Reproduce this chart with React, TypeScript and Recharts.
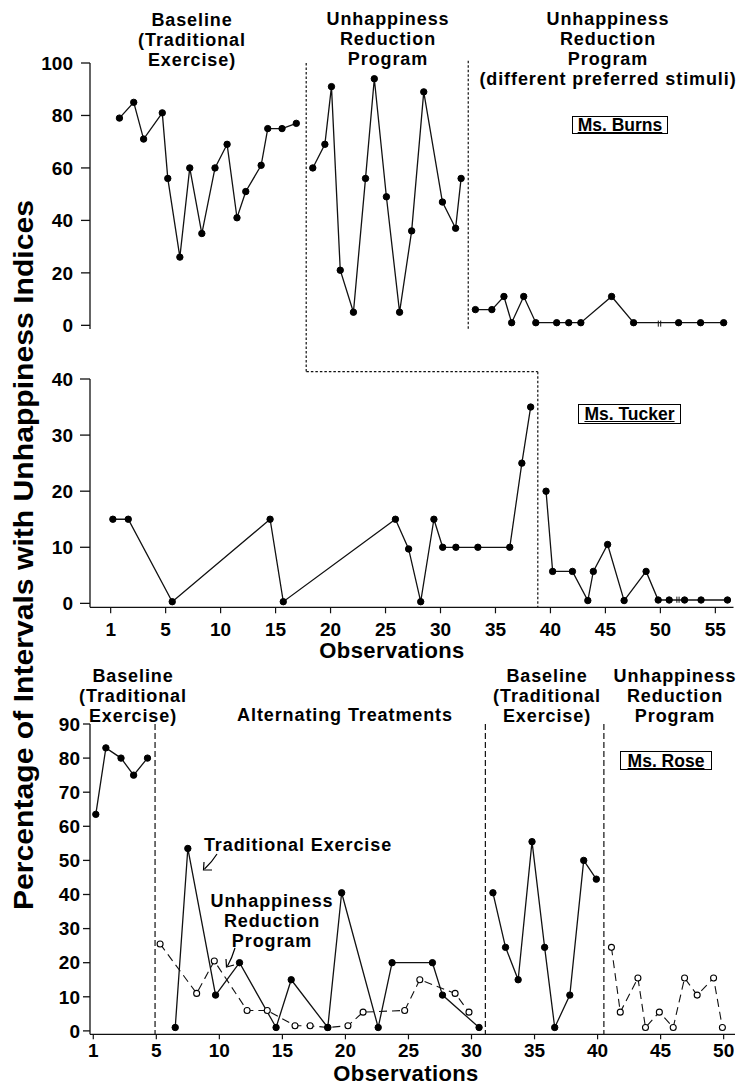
import React from 'react';
import { LineChart, Line, XAxis, YAxis, ReferenceLine } from 'recharts';

const FONT = '"Liberation Sans", Arial, Helvetica, sans-serif';

// ---------- Ms. Burns (top panel) ----------
const burnsBaselineX = [0.8, 2.1, 3.0, 4.7, 5.2, 6.3, 7.2, 8.3, 9.5, 10.6, 11.5, 12.3, 13.7, 14.3, 15.6, 16.9];
const burnsBaselineY = [79, 85, 71, 81, 56, 26, 60, 35, 60, 69, 41, 51, 61, 75, 75, 77];
const burnsProgramX = [18.4, 19.5, 20.1, 20.9, 22.1, 23.2, 24.0, 25.1, 26.3, 27.4, 28.5, 30.2, 31.4, 31.9];
const burnsProgramY = [60, 69, 91, 21, 5, 56, 94, 49, 5, 36, 89, 47, 37, 56];
const burnsStimuliX = [33.2, 34.7, 35.8, 36.5, 37.6, 38.7, 40.6, 41.7, 42.8, 45.6, 47.6, 51.7, 53.7, 55.8];
const burnsStimuliY = [6, 6, 11, 1, 11, 1, 1, 1, 1, 11, 1, 1, 1, 1];

// ---------- Ms. Tucker (middle panel) ----------
const tuckerBaselineX = [0.2, 1.6, 5.6, 14.5, 15.7, 25.9, 27.1, 28.2, 29.4, 30.2, 31.4, 33.4, 36.3, 37.4, 38.2];
const tuckerBaselineY = [15, 15, 0.3, 15, 0.3, 15, 9.7, 0.3, 15, 10, 10, 10, 10, 25, 35];
const tuckerProgramX = [39.6, 40.2, 42.0, 43.4, 43.9, 45.2, 46.7, 48.7, 49.8, 50.8, 52.2, 53.7, 56.1];
const tuckerProgramY = [20, 5.7, 5.7, 0.5, 5.7, 10.5, 0.5, 5.7, 0.6, 0.6, 0.6, 0.6, 0.6];

// ---------- Ms. Rose (bottom panel) ----------
const roseBaseline1X = [0.2, 1.0, 2.2, 3.2, 4.3];
const roseBaseline1Y = [63.5, 83, 80, 75, 80];
const roseTraditionalX = [6.5, 7.5, 9.7, 11.6, 14.5, 15.7, 18.6, 19.7, 22.6, 23.7, 26.9, 27.7, 30.6];
const roseTraditionalY = [1, 53.5, 10.5, 20, 1, 15, 1, 40.5, 1, 20, 20, 10.5, 1];
const roseAltProgramX = [5.3, 8.2, 9.6, 12.2, 13.8, 16.0, 17.2, 18.6, 20.2, 21.4, 24.7, 25.9, 28.7, 29.8];
const roseAltProgramY = [25.5, 11, 20.5, 6, 6, 1.5, 1.5, 1, 1.5, 5.5, 6, 15, 11, 5.5];
const roseBaseline2X = [31.7, 32.7, 33.7, 34.8, 35.8, 36.6, 37.8, 38.9, 39.9];
const roseBaseline2Y = [40.5, 24.5, 15, 55.5, 24.5, 1, 10.5, 50, 44.5];
const roseProgramX = [41.1, 41.8, 43.2, 43.8, 44.9, 46.0, 46.9, 47.9, 49.2, 49.9];
const roseProgramY = [24.5, 5.5, 15.5, 1, 5.5, 1, 15.5, 10.5, 15.5, 1];

// ---------- axes ----------
const topTicksY = [0, 20, 40, 60, 80, 100];
const midTicksY = [0, 10, 20, 30, 40];
const botTicksY = [0, 10, 20, 30, 40, 50, 60, 70, 80, 90];
const midTicksX = [0, 5, 10, 15, 20, 25, 30, 35, 40, 45, 50, 55];
const botTicksX = [0, 5, 10, 15, 20, 25, 30, 35, 40, 45, 50];
const firstTickLabel = '1';

// phase change lines (observation positions)
const burnsPhase1 = 17.8;
const burnsPhase2 = 32.55;
const tuckerPhase = 38.85;
const rosePhases = [4.9, 31.1, 40.5];

const zip = (xs: number[], ys: number[]) => xs.map((x, i) => ({ x, y: ys[i] }));
const fmtX = (v: number) => (v === 0 ? firstTickLabel : String(v));

const W = 741;
const H = 1087;
const INK = '#111';

const tickStyle = { fontSize: 19, fontWeight: 700, fill: '#000', fontFamily: FONT };
const filledDot = { r: 3.2, fill: '#000', stroke: '#000', strokeWidth: 1, strokeDasharray: 'none' };
const openDot = { r: 3, fill: '#fff', stroke: '#000', strokeWidth: 1.1, strokeDasharray: 'none' };

const solid = (data: { x: number; y: number }[], key: string) => (
  <Line
    key={key}
    data={data}
    dataKey="y"
    type="linear"
    stroke={INK}
    strokeWidth={1.3}
    dot={filledDot}
    activeDot={false}
    isAnimationActive={false}
  />
);

const dashed = (data: { x: number; y: number }[], key: string) => (
  <Line
    key={key}
    data={data}
    dataKey="y"
    type="linear"
    stroke={INK}
    strokeWidth={1.1}
    strokeDasharray="8 5"
    dot={openDot}
    activeDot={false}
    isAnimationActive={false}
  />
);

const abs: React.CSSProperties = { position: 'absolute', left: 0, top: 0 };

const Title = ({ x, top, lines, size = 18, spacing = 0.9 }: { x: number; top: number; lines: string[]; size?: number; spacing?: number }) => (
  <div
    style={{
      position: 'absolute',
      left: x,
      top,
      transform: 'translateX(-50%)',
      textAlign: 'center',
      fontFamily: FONT,
      fontWeight: 700,
      fontSize: size,
      letterSpacing: spacing,
      lineHeight: '20px',
      whiteSpace: 'nowrap',
      color: '#000',
    }}
  >
    {lines.map((l, i) => (
      <div key={i}>{l}</div>
    ))}
  </div>
);

const NameBox = ({ left, top, width, height, text }: { left: number; top: number; width: number; height: number; text: string }) => (
  <div
    style={{
      position: 'absolute',
      left,
      top,
      width,
      height,
      boxSizing: 'border-box',
      border: '1.3px solid #000',
      display: 'flex',
      alignItems: 'center',
      justifyContent: 'center',
      fontFamily: FONT,
      fontWeight: 700,
      fontSize: 17.5,
      textDecoration: 'underline',
      color: '#000',
      whiteSpace: 'nowrap',
      lineHeight: '16px',
    }}
  >
    {text}
  </div>
);

export default function App() {
  return (
    <div style={{ position: 'absolute', left: 0, top: 0, width: W, height: H, background: '#fff', overflow: 'hidden' }}>
      {/* Top panel: Ms. Burns */}
      <div style={abs}>
        <LineChart width={W} height={H} margin={{ top: 63, right: 8, left: 0, bottom: H - 329 }}>
          <XAxis
            type="number"
            dataKey="x"
            domain={[-1.88, 56.65]}
            allowDataOverflow
            height={0}
            tick={false}
            tickLine={false}
            axisLine={{ stroke: INK, strokeWidth: 1.3 }}
          />
          <YAxis
            type="number"
            domain={[-1.4, 100]}
            allowDataOverflow
            ticks={topTicksY}
            width={90}
            tick={tickStyle}
            tickSize={9}
            tickMargin={8}
            axisLine={{ stroke: INK, strokeWidth: 1.3 }}
            tickLine={{ stroke: INK, strokeWidth: 1.3 }}
          />
          <ReferenceLine
            segment={[{ x: burnsPhase1, y: 100 }, { x: burnsPhase1, y: -17.6 }]}
            ifOverflow="visible"
            stroke={INK}
            strokeWidth={1.2}
            strokeDasharray="2.5 2"
          />
          <ReferenceLine
            segment={[{ x: burnsPhase2, y: 100.9 }, { x: burnsPhase2, y: -1.4 }]}
            ifOverflow="visible"
            stroke={INK}
            strokeWidth={1.2}
            strokeDasharray="2.5 2"
          />
          <ReferenceLine segment={[{ x: 49.85, y: 1.8 }, { x: 49.85, y: -0.5 }]} ifOverflow="visible" stroke={INK} strokeWidth={1} />
          <ReferenceLine segment={[{ x: 50.07, y: 1.8 }, { x: 50.07, y: -0.5 }]} ifOverflow="visible" stroke={INK} strokeWidth={1} />
          {solid(zip(burnsBaselineX, burnsBaselineY), 'b1')}
          {solid(zip(burnsProgramX, burnsProgramY), 'b2')}
          {solid(zip(burnsStimuliX, burnsStimuliY), 'b3')}
        </LineChart>
      </div>

      {/* Middle panel: Ms. Tucker */}
      <div style={abs}>
        <LineChart width={W} height={H} margin={{ top: 379, right: 7.5, left: 0, bottom: H - 607.3 - 40 }}>
          <XAxis
            type="number"
            dataKey="x"
            domain={[-1.88, 56.65]}
            allowDataOverflow
            ticks={midTicksX}
            tickFormatter={fmtX}
            height={40}
            tick={tickStyle}
            tickSize={6}
            tickMargin={9}
            interval={0}
            axisLine={{ stroke: INK, strokeWidth: 1.3 }}
            tickLine={{ stroke: INK, strokeWidth: 1.2 }}
          />
          <YAxis
            type="number"
            domain={[-0.7, 40]}
            allowDataOverflow
            ticks={midTicksY}
            width={90}
            tick={tickStyle}
            tickSize={10}
            tickMargin={7}
            axisLine={{ stroke: INK, strokeWidth: 1.3 }}
            tickLine={{ stroke: INK, strokeWidth: 1.3 }}
          />
          <ReferenceLine
            segment={[{ x: burnsPhase1, y: 41.3 }, { x: tuckerPhase, y: 41.3 }]}
            ifOverflow="visible"
            stroke={INK}
            strokeWidth={1.2}
            strokeDasharray="2.5 2"
          />
          <ReferenceLine
            segment={[{ x: tuckerPhase, y: 41.3 }, { x: tuckerPhase, y: -0.7 }]}
            ifOverflow="visible"
            stroke={INK}
            strokeWidth={1.2}
            strokeDasharray="2.5 2"
          />
          <ReferenceLine segment={[{ x: 51.5, y: 1.2 }, { x: 51.5, y: 0.1 }]} ifOverflow="visible" stroke={INK} strokeWidth={1} />
          <ReferenceLine segment={[{ x: 51.7, y: 1.2 }, { x: 51.7, y: 0.1 }]} ifOverflow="visible" stroke={INK} strokeWidth={1} />
          {solid(zip(tuckerBaselineX, tuckerBaselineY), 't1')}
          {solid(zip(tuckerProgramX, tuckerProgramY), 't2')}
        </LineChart>
      </div>

      {/* Bottom panel: Ms. Rose */}
      <div style={abs}>
        <LineChart width={W} height={H} margin={{ top: 724, right: 6, left: 0, bottom: H - 1034.3 - 40 }}>
          <XAxis
            type="number"
            dataKey="x"
            domain={[-0.26, 50.9]}
            allowDataOverflow
            ticks={botTicksX}
            tickFormatter={fmtX}
            height={40}
            tick={tickStyle}
            tickSize={5}
            tickMargin={4}
            interval={0}
            axisLine={{ stroke: INK, strokeWidth: 1.3 }}
            tickLine={{ stroke: INK, strokeWidth: 1.2 }}
          />
          <YAxis
            type="number"
            domain={[-1, 90]}
            allowDataOverflow
            ticks={botTicksY}
            width={90}
            tick={tickStyle}
            tickSize={7}
            tickMargin={3}
            axisLine={{ stroke: INK, strokeWidth: 1.3 }}
            tickLine={{ stroke: INK, strokeWidth: 1.3 }}
          />
          {rosePhases.map((p, i) => (
            <ReferenceLine
              key={'rp' + i}
              segment={[{ x: p, y: 90 }, { x: p, y: -1 }]}
              ifOverflow="visible"
              stroke={INK}
              strokeWidth={1.2}
              strokeDasharray="6 3"
            />
          ))}
          {dashed(zip(roseAltProgramX, roseAltProgramY), 'r3')}
          {dashed(zip(roseProgramX, roseProgramY), 'r5')}
          {solid(zip(roseBaseline1X, roseBaseline1Y), 'r1')}
          {solid(zip(roseTraditionalX, roseTraditionalY), 'r2')}
          {solid(zip(roseBaseline2X, roseBaseline2Y), 'r4')}
        </LineChart>
      </div>

      {/* Y-axis title and annotation arrows */}
      <svg width={W} height={H} style={{ position: 'absolute', left: 0, top: 0, pointerEvents: 'none' }}>
        <text
          x={33}
          y={555}
          transform="rotate(-90 33 555)"
          textAnchor="middle"
          fontFamily={FONT}
          fontWeight={700}
          fontSize={28}
          textLength={710}
          lengthAdjust="spacingAndGlyphs"
          fill="#000"
        >
          Percentage of Intervals with Unhappiness Indices
        </text>
        <path d="M217,854 Q212,862 204.5,869" fill="none" stroke="#000" strokeWidth={1.2} />
        <path d="M204,862 L203.5,870 L212,870" fill="none" stroke="#000" strokeWidth={1.2} />
        <path d="M235,948 Q232,958 227.5,966" fill="none" stroke="#000" strokeWidth={1.2} />
        <path d="M226,959 L226.5,967 L234,965" fill="none" stroke="#000" strokeWidth={1.2} />
      </svg>

      {/* Phase titles, top panel */}
      <Title x={192} top={10} lines={['Baseline', '(Traditional', 'Exercise)']} />
      <Title x={388} top={8.5} lines={['Unhappiness', 'Reduction', 'Program']} />
      <Title x={608} top={8.5} lines={['Unhappiness', 'Reduction', 'Program', '(different preferred stimuli)']} />

      {/* Phase titles, bottom panel */}
      <Title x={133} top={666} lines={['Baseline', '(Traditional', 'Exercise)']} />
      <Title x={345} top={705} lines={['Alternating Treatments']} />
      <Title x={547} top={666} lines={['Baseline', '(Traditional', 'Exercise)']} />
      <Title x={675} top={666} lines={['Unhappiness', 'Reduction', 'Program']} />

      {/* Series annotations */}
      <Title x={298} top={835} lines={['Traditional Exercise']} />
      <Title x={272} top={891} lines={['Unhappiness', 'Reduction', 'Program']} />

      {/* Observations labels */}
      <Title x={392} top={641} lines={['Observations']} size={22} spacing={0.4} />
      <Title x={406} top={1064} lines={['Observations']} size={22} spacing={0.4} />

      {/* Participant boxes */}
      <NameBox left={572} top={116} width={96} height={18} text="Ms. Burns" />
      <NameBox left={578} top={404} width={103} height={20} text="Ms. Tucker" />
      <NameBox left={620} top={751} width={92} height={19} text="Ms. Rose" />
    </div>
  );
}
